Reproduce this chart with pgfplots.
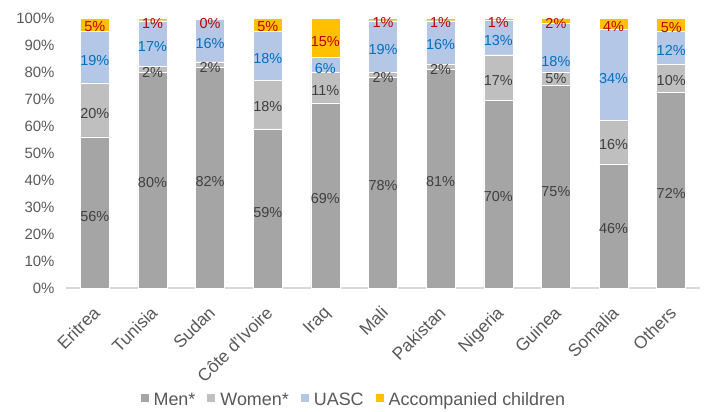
\documentclass[border=0pt]{standalone}
\usepackage{pgfplots}
\pgfplotsset{compat=1.18}
\usepackage{fontspec}
\setmainfont{Liberation Sans}

\definecolor{men}{HTML}{A5A5A5}
\definecolor{women}{HTML}{BFBFBF}
\definecolor{uasc}{HTML}{B4C7E7}
\definecolor{acc}{HTML}{FFC000}
\definecolor{txt}{HTML}{595959}
\definecolor{lblgray}{HTML}{404040}
\definecolor{lblblue}{HTML}{0070C0}
\definecolor{lblred}{HTML}{C00000}

\pgfplotsset{
    base/.style={
        width=634bp,
        height=270bp,
        scale only axis,
        xmin=-0.5,
        xmax=10.5,
        ymin=0,
        ymax=100,
    },
    seg/.style={
        fill=#1,
        draw=white,
        line width=0.4pt,
        legend image code/.code={
            \fill[#1, draw=none] (0bp,-2bp) rectangle (8bp,6bp);
            \path[draw=none, fill=none] (0bp,0bp) -- (11bp,0bp);
        },
    },
    lbl/.style={
        only marks,
        mark=*,
        mark size=0pt,
        mark options={draw=none, fill=none},
        point meta=explicit symbolic,
        nodes near coords,
        nodes near coords align={center},
        every node near coord/.append style={
            text=#1,
            font=\fontsize{14.5}{16}\selectfont,
            inner sep=0pt,
        },
    },
}

\begin{document}
\begin{tikzpicture}
\begin{axis}[
    base,
    ybar stacked,
    bar width=29bp,
    axis x line=bottom,
    axis y line=left,
    x axis line style={draw=black!15, line width=1.2pt, -},
    y axis line style={draw=none},
    major tick length=0pt,
    xtick={0,...,10},
    xticklabels={Eritrea,Tunisia,Sudan,Côte d'Ivoire,Iraq,Mali,Pakistan,Nigeria,Guinea,Somalia,Others},
    xticklabel style={
        rotate=45,
        anchor=north east,
        text=txt,
        font=\fontsize{17.5}{19}\selectfont,
        inner sep=1pt,
        xshift=-13bp,
        yshift=-9bp,
    },
    ytick={0,10,...,100},
    yticklabels={0\%,10\%,20\%,30\%,40\%,50\%,60\%,70\%,80\%,90\%,100\%},
    yticklabel style={
        text=txt,
        font=\fontsize{15}{17}\selectfont,
        xshift=-8bp,
    },
    legend columns=4,
    legend style={
        at={(0.454,-0.415)},
        anchor=center,
        draw=none,
        font=\fontsize{18}{20}\selectfont,
        text=txt,
        /tikz/every even column/.append style={column sep=10bp},
        cells={anchor=west},
    },
]

% Men*
\addplot[seg=men] coordinates {
    (0,56.0) (1,80.0) (2,81.8) (3,59.0) (4,68.6) (5,78.0)
    (6,81.0) (7,69.6) (8,75.0) (9,46.0) (10,72.4)
};
% Women*
\addplot[seg=women] coordinates {
    (0,20.0) (1,2.0) (2,2.0) (3,18.0) (4,11.2) (5,2.0)
    (6,2.0) (7,16.8) (8,5.0) (9,16.0) (10,10.4)
};
% UASC
\addplot[seg=uasc] coordinates {
    (0,19.0) (1,17.0) (2,15.8) (3,18.0) (4,5.6) (5,19.0)
    (6,16.0) (7,12.7) (8,18.0) (9,34.0) (10,12.4)
};
% Accompanied children
\addplot[seg=acc] coordinates {
    (0,5.0) (1,1.0) (2,0.4) (3,5.0) (4,14.6) (5,1.0)
    (6,1.0) (7,0.9) (8,2.0) (9,4.0) (10,4.8)
};
\legend{Men*,Women*,UASC,Accompanied children}
\end{axis}

% value labels, drawn on an overlay axis of the same size
\begin{axis}[base, hide axis]
\addplot[lbl=lblgray] coordinates {
    (0,26.3)[56\%] (1,38.9)[80\%] (2,39.3)[82\%] (3,28.1)[59\%]
    (4,33.3)[69\%] (5,38.1)[78\%] (6,39.3)[81\%] (7,33.7)[70\%]
    (8,35.9)[75\%] (9,21.9)[46\%] (10,35.1)[72\%]
};
\addplot[lbl=lblgray] coordinates {
    (0,64.8)[20\%] (1,80.0)[2\%] (2,81.5)[2\%] (3,67.1)[18\%]
    (4,73.3)[11\%] (5,78.1)[2\%] (6,81.1)[2\%] (7,77.0)[17\%]
    (8,77.7)[5\%] (9,53.0)[16\%] (10,76.7)[10\%]
};
\addplot[lbl=lblblue] coordinates {
    (0,84.4)[19\%] (1,89.4)[17\%] (2,90.6)[16\%] (3,85.0)[18\%]
    (4,81.4)[6\%] (5,88.4)[19\%] (6,90.0)[16\%] (7,91.8)[13\%]
    (8,84.0)[18\%] (9,77.7)[34\%] (10,87.8)[12\%]
};
\addplot[lbl=lblred] coordinates {
    (0,96.7)[5\%] (1,98.1)[1\%] (2,98.1)[0\%] (3,96.7)[5\%]
    (4,91.2)[15\%] (5,98.2)[1\%] (6,98.2)[1\%] (7,98.2)[1\%]
    (8,98.0)[2\%] (9,96.7)[4\%] (10,96.3)[5\%]
};
\end{axis}

\path (current axis.south west) ++(-66bp,-121bp) rectangle ++(708bp,409bp);
\end{tikzpicture}
\end{document}
